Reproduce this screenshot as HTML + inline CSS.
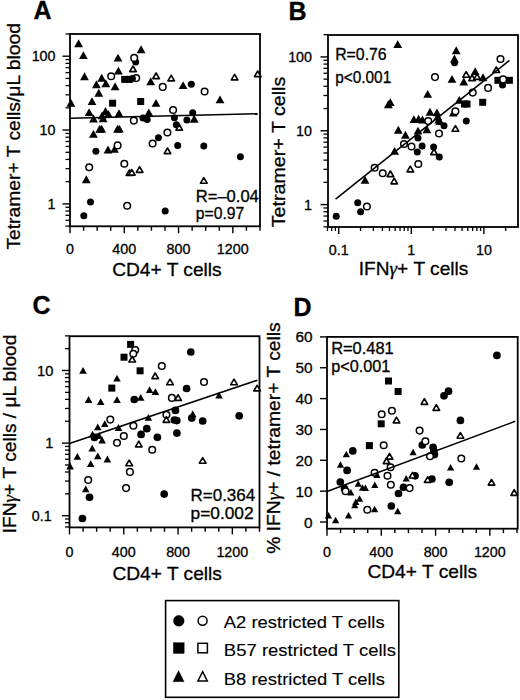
<!DOCTYPE html>
<html><head><meta charset="utf-8"><style>
html,body{margin:0;padding:0;background:#fff;}
body{width:520px;height:700px;overflow:hidden;font-family:"Liberation Sans", sans-serif;}
svg{display:block;}
</style></head><body>
<svg width="520" height="700" viewBox="0 0 520 700">
<rect width="520" height="700" fill="#fff"/>
<g font-family='"Liberation Sans", sans-serif' fill="#000" stroke="#000" stroke-width="0.3">
<text x="33.5" y="18.6" font-size="25" text-anchor="start" font-weight="bold">A</text>
<text x="288.5" y="20.2" font-size="25" text-anchor="start" font-weight="bold">B</text>
<text x="32.5" y="313.8" font-size="25" text-anchor="start" font-weight="bold">C</text>
<text x="293.5" y="316.2" font-size="25" text-anchor="start" font-weight="bold">D</text>
<rect x="70" y="34" width="190" height="192.3" fill="none" stroke="#000" stroke-width="1.8"/>
<line x1="62.50" y1="203.90" x2="70.00" y2="203.90" stroke="#000" stroke-width="1.4"/>
<line x1="62.50" y1="130.05" x2="70.00" y2="130.05" stroke="#000" stroke-width="1.4"/>
<line x1="62.50" y1="56.20" x2="70.00" y2="56.20" stroke="#000" stroke-width="1.4"/>
<line x1="65.50" y1="226.13" x2="70.00" y2="226.13" stroke="#000" stroke-width="1.3"/>
<line x1="65.50" y1="220.28" x2="70.00" y2="220.28" stroke="#000" stroke-width="1.3"/>
<line x1="65.50" y1="215.34" x2="70.00" y2="215.34" stroke="#000" stroke-width="1.3"/>
<line x1="65.50" y1="211.06" x2="70.00" y2="211.06" stroke="#000" stroke-width="1.3"/>
<line x1="65.50" y1="207.28" x2="70.00" y2="207.28" stroke="#000" stroke-width="1.3"/>
<line x1="65.50" y1="181.67" x2="70.00" y2="181.67" stroke="#000" stroke-width="1.3"/>
<line x1="65.50" y1="168.66" x2="70.00" y2="168.66" stroke="#000" stroke-width="1.3"/>
<line x1="65.50" y1="159.44" x2="70.00" y2="159.44" stroke="#000" stroke-width="1.3"/>
<line x1="65.50" y1="152.28" x2="70.00" y2="152.28" stroke="#000" stroke-width="1.3"/>
<line x1="65.50" y1="146.43" x2="70.00" y2="146.43" stroke="#000" stroke-width="1.3"/>
<line x1="65.50" y1="141.49" x2="70.00" y2="141.49" stroke="#000" stroke-width="1.3"/>
<line x1="65.50" y1="137.21" x2="70.00" y2="137.21" stroke="#000" stroke-width="1.3"/>
<line x1="65.50" y1="133.43" x2="70.00" y2="133.43" stroke="#000" stroke-width="1.3"/>
<line x1="65.50" y1="107.82" x2="70.00" y2="107.82" stroke="#000" stroke-width="1.3"/>
<line x1="65.50" y1="94.81" x2="70.00" y2="94.81" stroke="#000" stroke-width="1.3"/>
<line x1="65.50" y1="85.59" x2="70.00" y2="85.59" stroke="#000" stroke-width="1.3"/>
<line x1="65.50" y1="78.43" x2="70.00" y2="78.43" stroke="#000" stroke-width="1.3"/>
<line x1="65.50" y1="72.58" x2="70.00" y2="72.58" stroke="#000" stroke-width="1.3"/>
<line x1="65.50" y1="67.64" x2="70.00" y2="67.64" stroke="#000" stroke-width="1.3"/>
<line x1="65.50" y1="63.36" x2="70.00" y2="63.36" stroke="#000" stroke-width="1.3"/>
<line x1="65.50" y1="59.58" x2="70.00" y2="59.58" stroke="#000" stroke-width="1.3"/>
<line x1="65.50" y1="33.97" x2="70.00" y2="33.97" stroke="#000" stroke-width="1.3"/>
<line x1="70.00" y1="226.30" x2="70.00" y2="233.30" stroke="#000" stroke-width="1.4"/>
<line x1="83.57" y1="226.30" x2="83.57" y2="230.70" stroke="#000" stroke-width="1.4"/>
<line x1="97.14" y1="226.30" x2="97.14" y2="230.70" stroke="#000" stroke-width="1.4"/>
<line x1="110.71" y1="226.30" x2="110.71" y2="230.70" stroke="#000" stroke-width="1.4"/>
<line x1="124.28" y1="226.30" x2="124.28" y2="233.30" stroke="#000" stroke-width="1.4"/>
<line x1="137.85" y1="226.30" x2="137.85" y2="230.70" stroke="#000" stroke-width="1.4"/>
<line x1="151.42" y1="226.30" x2="151.42" y2="230.70" stroke="#000" stroke-width="1.4"/>
<line x1="164.99" y1="226.30" x2="164.99" y2="230.70" stroke="#000" stroke-width="1.4"/>
<line x1="178.56" y1="226.30" x2="178.56" y2="233.30" stroke="#000" stroke-width="1.4"/>
<line x1="192.13" y1="226.30" x2="192.13" y2="230.70" stroke="#000" stroke-width="1.4"/>
<line x1="205.70" y1="226.30" x2="205.70" y2="230.70" stroke="#000" stroke-width="1.4"/>
<line x1="219.27" y1="226.30" x2="219.27" y2="230.70" stroke="#000" stroke-width="1.4"/>
<line x1="232.84" y1="226.30" x2="232.84" y2="233.30" stroke="#000" stroke-width="1.4"/>
<line x1="246.41" y1="226.30" x2="246.41" y2="230.70" stroke="#000" stroke-width="1.4"/>
<line x1="259.98" y1="226.30" x2="259.98" y2="230.70" stroke="#000" stroke-width="1.4"/>
<text x="55.5" y="61.30000000000002" font-size="14.3" text-anchor="end" font-weight="normal">100</text>
<text x="55.5" y="135.15" font-size="14.3" text-anchor="end" font-weight="normal">10</text>
<text x="55.5" y="209.0" font-size="14.3" text-anchor="end" font-weight="normal">1</text>
<text x="70.0" y="254.3" font-size="14.3" text-anchor="middle" font-weight="normal">0</text>
<text x="124.24000000000001" y="254.3" font-size="14.3" text-anchor="middle" font-weight="normal">400</text>
<text x="178.48000000000002" y="254.3" font-size="14.3" text-anchor="middle" font-weight="normal">800</text>
<text x="232.72" y="254.3" font-size="14.3" text-anchor="middle" font-weight="normal">1200</text>
<text x="112.2" y="276.4" font-size="19" text-anchor="start" font-weight="normal" textLength="109.5" lengthAdjust="spacingAndGlyphs">CD4+ T cells</text>
<text x="20" y="249.6" font-size="19" text-anchor="start" font-weight="normal" textLength="226.5" lengthAdjust="spacingAndGlyphs" transform="rotate(-90 20 249.6)">Tetramer+ T cells/μL blood</text>
<text x="195.8" y="201.6" font-size="16" text-anchor="start" font-weight="normal" textLength="63" lengthAdjust="spacingAndGlyphs">R=–0.04</text>
<text x="195.8" y="218.9" font-size="16" text-anchor="start" font-weight="normal" textLength="48.5" lengthAdjust="spacingAndGlyphs">p=0.97</text>
<rect x="328" y="35" width="190" height="192" fill="none" stroke="#000" stroke-width="1.8"/>
<line x1="320.50" y1="204.60" x2="328.00" y2="204.60" stroke="#000" stroke-width="1.4"/>
<line x1="320.50" y1="130.75" x2="328.00" y2="130.75" stroke="#000" stroke-width="1.4"/>
<line x1="320.50" y1="56.90" x2="328.00" y2="56.90" stroke="#000" stroke-width="1.4"/>
<line x1="323.50" y1="226.83" x2="328.00" y2="226.83" stroke="#000" stroke-width="1.3"/>
<line x1="323.50" y1="220.98" x2="328.00" y2="220.98" stroke="#000" stroke-width="1.3"/>
<line x1="323.50" y1="216.04" x2="328.00" y2="216.04" stroke="#000" stroke-width="1.3"/>
<line x1="323.50" y1="211.76" x2="328.00" y2="211.76" stroke="#000" stroke-width="1.3"/>
<line x1="323.50" y1="207.98" x2="328.00" y2="207.98" stroke="#000" stroke-width="1.3"/>
<line x1="323.50" y1="182.37" x2="328.00" y2="182.37" stroke="#000" stroke-width="1.3"/>
<line x1="323.50" y1="169.36" x2="328.00" y2="169.36" stroke="#000" stroke-width="1.3"/>
<line x1="323.50" y1="160.14" x2="328.00" y2="160.14" stroke="#000" stroke-width="1.3"/>
<line x1="323.50" y1="152.98" x2="328.00" y2="152.98" stroke="#000" stroke-width="1.3"/>
<line x1="323.50" y1="147.13" x2="328.00" y2="147.13" stroke="#000" stroke-width="1.3"/>
<line x1="323.50" y1="142.19" x2="328.00" y2="142.19" stroke="#000" stroke-width="1.3"/>
<line x1="323.50" y1="137.91" x2="328.00" y2="137.91" stroke="#000" stroke-width="1.3"/>
<line x1="323.50" y1="134.13" x2="328.00" y2="134.13" stroke="#000" stroke-width="1.3"/>
<line x1="323.50" y1="108.52" x2="328.00" y2="108.52" stroke="#000" stroke-width="1.3"/>
<line x1="323.50" y1="95.51" x2="328.00" y2="95.51" stroke="#000" stroke-width="1.3"/>
<line x1="323.50" y1="86.29" x2="328.00" y2="86.29" stroke="#000" stroke-width="1.3"/>
<line x1="323.50" y1="79.13" x2="328.00" y2="79.13" stroke="#000" stroke-width="1.3"/>
<line x1="323.50" y1="73.28" x2="328.00" y2="73.28" stroke="#000" stroke-width="1.3"/>
<line x1="323.50" y1="68.34" x2="328.00" y2="68.34" stroke="#000" stroke-width="1.3"/>
<line x1="323.50" y1="64.06" x2="328.00" y2="64.06" stroke="#000" stroke-width="1.3"/>
<line x1="323.50" y1="60.28" x2="328.00" y2="60.28" stroke="#000" stroke-width="1.3"/>
<line x1="323.50" y1="34.67" x2="328.00" y2="34.67" stroke="#000" stroke-width="1.3"/>
<line x1="338.70" y1="227.00" x2="338.70" y2="234.00" stroke="#000" stroke-width="1.4"/>
<line x1="411.30" y1="227.00" x2="411.30" y2="234.00" stroke="#000" stroke-width="1.4"/>
<line x1="483.90" y1="227.00" x2="483.90" y2="234.00" stroke="#000" stroke-width="1.4"/>
<line x1="327.45" y1="227.00" x2="327.45" y2="231.00" stroke="#000" stroke-width="1.3"/>
<line x1="331.66" y1="227.00" x2="331.66" y2="231.00" stroke="#000" stroke-width="1.3"/>
<line x1="335.38" y1="227.00" x2="335.38" y2="231.00" stroke="#000" stroke-width="1.3"/>
<line x1="360.55" y1="227.00" x2="360.55" y2="231.00" stroke="#000" stroke-width="1.3"/>
<line x1="373.34" y1="227.00" x2="373.34" y2="231.00" stroke="#000" stroke-width="1.3"/>
<line x1="382.41" y1="227.00" x2="382.41" y2="231.00" stroke="#000" stroke-width="1.3"/>
<line x1="389.45" y1="227.00" x2="389.45" y2="231.00" stroke="#000" stroke-width="1.3"/>
<line x1="395.19" y1="227.00" x2="395.19" y2="231.00" stroke="#000" stroke-width="1.3"/>
<line x1="400.05" y1="227.00" x2="400.05" y2="231.00" stroke="#000" stroke-width="1.3"/>
<line x1="404.26" y1="227.00" x2="404.26" y2="231.00" stroke="#000" stroke-width="1.3"/>
<line x1="407.98" y1="227.00" x2="407.98" y2="231.00" stroke="#000" stroke-width="1.3"/>
<line x1="433.15" y1="227.00" x2="433.15" y2="231.00" stroke="#000" stroke-width="1.3"/>
<line x1="445.94" y1="227.00" x2="445.94" y2="231.00" stroke="#000" stroke-width="1.3"/>
<line x1="455.01" y1="227.00" x2="455.01" y2="231.00" stroke="#000" stroke-width="1.3"/>
<line x1="462.05" y1="227.00" x2="462.05" y2="231.00" stroke="#000" stroke-width="1.3"/>
<line x1="467.79" y1="227.00" x2="467.79" y2="231.00" stroke="#000" stroke-width="1.3"/>
<line x1="472.65" y1="227.00" x2="472.65" y2="231.00" stroke="#000" stroke-width="1.3"/>
<line x1="476.86" y1="227.00" x2="476.86" y2="231.00" stroke="#000" stroke-width="1.3"/>
<line x1="480.58" y1="227.00" x2="480.58" y2="231.00" stroke="#000" stroke-width="1.3"/>
<line x1="505.75" y1="227.00" x2="505.75" y2="231.00" stroke="#000" stroke-width="1.3"/>
<text x="312" y="62.00000000000001" font-size="14.3" text-anchor="end" font-weight="normal">100</text>
<text x="312" y="135.85" font-size="14.3" text-anchor="end" font-weight="normal">10</text>
<text x="312" y="209.7" font-size="14.3" text-anchor="end" font-weight="normal">1</text>
<text x="338.7" y="255.3" font-size="14.3" text-anchor="middle" font-weight="normal">0.1</text>
<text x="411.29999999999995" y="255.3" font-size="14.3" text-anchor="middle" font-weight="normal">1</text>
<text x="483.9" y="255.3" font-size="14.3" text-anchor="middle" font-weight="normal">10</text>
<text x="358.8" y="274.8" font-size="19" text-anchor="start" font-weight="normal" textLength="109.5" lengthAdjust="spacingAndGlyphs">IFN<tspan font-family="Liberation Serif" font-style="italic">γ</tspan>+ T cells</text>
<text x="285.1" y="227.2" font-size="19" text-anchor="start" font-weight="normal" textLength="150.5" lengthAdjust="spacingAndGlyphs" transform="rotate(-90 285.1 227.2)">Tetramer+ T cells</text>
<text x="335.2" y="59.5" font-size="16" text-anchor="start" font-weight="normal" textLength="51.5" lengthAdjust="spacingAndGlyphs">R=0.76</text>
<text x="335.2" y="83.1" font-size="16" text-anchor="start" font-weight="normal" textLength="56" lengthAdjust="spacingAndGlyphs">p&lt;0.001</text>
<rect x="69.5" y="336.2" width="190.0" height="191.2" fill="none" stroke="#000" stroke-width="1.8"/>
<line x1="62.00" y1="515.70" x2="69.50" y2="515.70" stroke="#000" stroke-width="1.4"/>
<line x1="62.00" y1="443.10" x2="69.50" y2="443.10" stroke="#000" stroke-width="1.4"/>
<line x1="62.00" y1="370.50" x2="69.50" y2="370.50" stroke="#000" stroke-width="1.4"/>
<line x1="65.00" y1="526.95" x2="69.50" y2="526.95" stroke="#000" stroke-width="1.3"/>
<line x1="65.00" y1="522.74" x2="69.50" y2="522.74" stroke="#000" stroke-width="1.3"/>
<line x1="65.00" y1="519.02" x2="69.50" y2="519.02" stroke="#000" stroke-width="1.3"/>
<line x1="65.00" y1="493.85" x2="69.50" y2="493.85" stroke="#000" stroke-width="1.3"/>
<line x1="65.00" y1="481.06" x2="69.50" y2="481.06" stroke="#000" stroke-width="1.3"/>
<line x1="65.00" y1="471.99" x2="69.50" y2="471.99" stroke="#000" stroke-width="1.3"/>
<line x1="65.00" y1="464.95" x2="69.50" y2="464.95" stroke="#000" stroke-width="1.3"/>
<line x1="65.00" y1="459.21" x2="69.50" y2="459.21" stroke="#000" stroke-width="1.3"/>
<line x1="65.00" y1="454.35" x2="69.50" y2="454.35" stroke="#000" stroke-width="1.3"/>
<line x1="65.00" y1="450.14" x2="69.50" y2="450.14" stroke="#000" stroke-width="1.3"/>
<line x1="65.00" y1="446.42" x2="69.50" y2="446.42" stroke="#000" stroke-width="1.3"/>
<line x1="65.00" y1="421.25" x2="69.50" y2="421.25" stroke="#000" stroke-width="1.3"/>
<line x1="65.00" y1="408.46" x2="69.50" y2="408.46" stroke="#000" stroke-width="1.3"/>
<line x1="65.00" y1="399.39" x2="69.50" y2="399.39" stroke="#000" stroke-width="1.3"/>
<line x1="65.00" y1="392.35" x2="69.50" y2="392.35" stroke="#000" stroke-width="1.3"/>
<line x1="65.00" y1="386.61" x2="69.50" y2="386.61" stroke="#000" stroke-width="1.3"/>
<line x1="65.00" y1="381.75" x2="69.50" y2="381.75" stroke="#000" stroke-width="1.3"/>
<line x1="65.00" y1="377.54" x2="69.50" y2="377.54" stroke="#000" stroke-width="1.3"/>
<line x1="65.00" y1="373.82" x2="69.50" y2="373.82" stroke="#000" stroke-width="1.3"/>
<line x1="65.00" y1="348.65" x2="69.50" y2="348.65" stroke="#000" stroke-width="1.3"/>
<line x1="65.00" y1="335.86" x2="69.50" y2="335.86" stroke="#000" stroke-width="1.3"/>
<line x1="69.50" y1="527.40" x2="69.50" y2="534.40" stroke="#000" stroke-width="1.4"/>
<line x1="83.07" y1="527.40" x2="83.07" y2="531.80" stroke="#000" stroke-width="1.4"/>
<line x1="96.64" y1="527.40" x2="96.64" y2="531.80" stroke="#000" stroke-width="1.4"/>
<line x1="110.21" y1="527.40" x2="110.21" y2="531.80" stroke="#000" stroke-width="1.4"/>
<line x1="123.78" y1="527.40" x2="123.78" y2="534.40" stroke="#000" stroke-width="1.4"/>
<line x1="137.35" y1="527.40" x2="137.35" y2="531.80" stroke="#000" stroke-width="1.4"/>
<line x1="150.92" y1="527.40" x2="150.92" y2="531.80" stroke="#000" stroke-width="1.4"/>
<line x1="164.49" y1="527.40" x2="164.49" y2="531.80" stroke="#000" stroke-width="1.4"/>
<line x1="178.06" y1="527.40" x2="178.06" y2="534.40" stroke="#000" stroke-width="1.4"/>
<line x1="191.63" y1="527.40" x2="191.63" y2="531.80" stroke="#000" stroke-width="1.4"/>
<line x1="205.20" y1="527.40" x2="205.20" y2="531.80" stroke="#000" stroke-width="1.4"/>
<line x1="218.77" y1="527.40" x2="218.77" y2="531.80" stroke="#000" stroke-width="1.4"/>
<line x1="232.34" y1="527.40" x2="232.34" y2="534.40" stroke="#000" stroke-width="1.4"/>
<line x1="245.91" y1="527.40" x2="245.91" y2="531.80" stroke="#000" stroke-width="1.4"/>
<line x1="259.48" y1="527.40" x2="259.48" y2="531.80" stroke="#000" stroke-width="1.4"/>
<text x="53.3" y="375.5" font-size="14.6" text-anchor="end" font-weight="normal">10</text>
<text x="53.3" y="448.1" font-size="14.6" text-anchor="end" font-weight="normal">1</text>
<text x="51.6" y="520.7" font-size="14.6" text-anchor="end" font-weight="normal" textLength="19.8" lengthAdjust="spacingAndGlyphs">0.1</text>
<text x="69.5" y="557.0" font-size="14.3" text-anchor="middle" font-weight="normal">0</text>
<text x="123.78" y="557.0" font-size="14.3" text-anchor="middle" font-weight="normal">400</text>
<text x="178.06" y="557.0" font-size="14.3" text-anchor="middle" font-weight="normal">800</text>
<text x="232.33999999999997" y="557.0" font-size="14.3" text-anchor="middle" font-weight="normal">1200</text>
<text x="112.4" y="579.7" font-size="19" text-anchor="start" font-weight="normal" textLength="109.5" lengthAdjust="spacingAndGlyphs">CD4+ T cells</text>
<text x="16.2" y="533.2" font-size="19" text-anchor="start" font-weight="normal" textLength="198.6" lengthAdjust="spacingAndGlyphs" transform="rotate(-90 16.2 533.2)">IFN<tspan font-family="Liberation Serif" font-style="italic">γ</tspan>+ T cells / μL blood</text>
<text x="190.6" y="500.9" font-size="16" text-anchor="start" font-weight="normal" textLength="64.5" lengthAdjust="spacingAndGlyphs">R=0.364</text>
<text x="190.6" y="518.5" font-size="16" text-anchor="start" font-weight="normal" textLength="63" lengthAdjust="spacingAndGlyphs">p=0.002</text>
<rect x="327" y="336.9" width="190.70000000000005" height="191.80000000000007" fill="none" stroke="#000" stroke-width="1.8"/>
<line x1="320.00" y1="522.00" x2="327.00" y2="522.00" stroke="#000" stroke-width="1.4"/>
<line x1="320.00" y1="491.15" x2="327.00" y2="491.15" stroke="#000" stroke-width="1.4"/>
<line x1="320.00" y1="460.30" x2="327.00" y2="460.30" stroke="#000" stroke-width="1.4"/>
<line x1="320.00" y1="429.45" x2="327.00" y2="429.45" stroke="#000" stroke-width="1.4"/>
<line x1="320.00" y1="398.60" x2="327.00" y2="398.60" stroke="#000" stroke-width="1.4"/>
<line x1="320.00" y1="367.75" x2="327.00" y2="367.75" stroke="#000" stroke-width="1.4"/>
<line x1="320.00" y1="336.90" x2="327.00" y2="336.90" stroke="#000" stroke-width="1.4"/>
<text x="312.6" y="342.4" font-size="15.4" text-anchor="end" font-weight="normal">60</text>
<text x="312.6" y="373.25" font-size="15.4" text-anchor="end" font-weight="normal">50</text>
<text x="312.6" y="404.1" font-size="15.4" text-anchor="end" font-weight="normal">40</text>
<text x="312.6" y="434.95" font-size="15.4" text-anchor="end" font-weight="normal">30</text>
<text x="312.6" y="465.8" font-size="15.4" text-anchor="end" font-weight="normal">20</text>
<text x="312.6" y="496.65" font-size="15.4" text-anchor="end" font-weight="normal">10</text>
<text x="312.6" y="527.5" font-size="15.4" text-anchor="end" font-weight="normal">0</text>
<line x1="327.00" y1="528.70" x2="327.00" y2="535.70" stroke="#000" stroke-width="1.4"/>
<line x1="340.57" y1="528.70" x2="340.57" y2="533.10" stroke="#000" stroke-width="1.4"/>
<line x1="354.14" y1="528.70" x2="354.14" y2="533.10" stroke="#000" stroke-width="1.4"/>
<line x1="367.71" y1="528.70" x2="367.71" y2="533.10" stroke="#000" stroke-width="1.4"/>
<line x1="381.28" y1="528.70" x2="381.28" y2="535.70" stroke="#000" stroke-width="1.4"/>
<line x1="394.85" y1="528.70" x2="394.85" y2="533.10" stroke="#000" stroke-width="1.4"/>
<line x1="408.42" y1="528.70" x2="408.42" y2="533.10" stroke="#000" stroke-width="1.4"/>
<line x1="421.99" y1="528.70" x2="421.99" y2="533.10" stroke="#000" stroke-width="1.4"/>
<line x1="435.56" y1="528.70" x2="435.56" y2="535.70" stroke="#000" stroke-width="1.4"/>
<line x1="449.13" y1="528.70" x2="449.13" y2="533.10" stroke="#000" stroke-width="1.4"/>
<line x1="462.70" y1="528.70" x2="462.70" y2="533.10" stroke="#000" stroke-width="1.4"/>
<line x1="476.27" y1="528.70" x2="476.27" y2="533.10" stroke="#000" stroke-width="1.4"/>
<line x1="489.84" y1="528.70" x2="489.84" y2="535.70" stroke="#000" stroke-width="1.4"/>
<line x1="503.41" y1="528.70" x2="503.41" y2="533.10" stroke="#000" stroke-width="1.4"/>
<line x1="516.98" y1="528.70" x2="516.98" y2="533.10" stroke="#000" stroke-width="1.4"/>
<text x="327.0" y="557.3" font-size="14.3" text-anchor="middle" font-weight="normal">0</text>
<text x="381.28" y="557.3" font-size="14.3" text-anchor="middle" font-weight="normal">400</text>
<text x="435.56" y="557.3" font-size="14.3" text-anchor="middle" font-weight="normal">800</text>
<text x="489.84" y="557.3" font-size="14.3" text-anchor="middle" font-weight="normal">1200</text>
<text x="367.4" y="577.6" font-size="19" text-anchor="start" font-weight="normal" textLength="109.6" lengthAdjust="spacingAndGlyphs">CD4+ T cells</text>
<text x="280" y="553.8" font-size="19" text-anchor="start" font-weight="normal" textLength="231.5" lengthAdjust="spacingAndGlyphs" transform="rotate(-90 280 553.8)">% IFN<tspan font-family="Liberation Serif" font-style="italic">γ</tspan>+ / tetramer+ T cells</text>
<text x="331.2" y="353.6" font-size="16" text-anchor="start" font-weight="normal" textLength="62.5" lengthAdjust="spacingAndGlyphs">R=0.481</text>
<text x="331.2" y="371.7" font-size="16" text-anchor="start" font-weight="normal" textLength="59" lengthAdjust="spacingAndGlyphs">p&lt;0.001</text>
<rect x="165.6" y="600.6" width="233.20000000000002" height="96.69999999999993" fill="none" stroke="#000" stroke-width="1.6"/>
<circle cx="178.8" cy="620.8" r="5.45" fill="#000"/>
<circle cx="202.6" cy="620.8" r="4.5" fill="#fff" stroke="#000" stroke-width="1.5"/>
<rect x="173.3" y="642.6" width="10.9" height="10.9" fill="#000"/>
<rect x="197.9" y="643.3" width="9.5" height="9.5" fill="#fff" stroke="#000" stroke-width="1.5"/>
<path d="M178.6 670.5L184.2 681.7L172.9 681.7Z" fill="#000"/>
<path d="M202.6 671.6L207.3 680.9L197.9 680.9Z" fill="#fff" stroke="#000" stroke-width="1.5"/>
<text x="223.8" y="628.0" font-size="16.2" text-anchor="start" font-weight="normal" textLength="160.8" lengthAdjust="spacingAndGlyphs" stroke-width="0.12">A2 restricted T cells</text>
<text x="223.8" y="656.3" font-size="16.2" text-anchor="start" font-weight="normal" textLength="172.2" lengthAdjust="spacingAndGlyphs" stroke-width="0.12">B57 restricted T cells</text>
<text x="223.8" y="684.7" font-size="16.2" text-anchor="start" font-weight="normal" textLength="161.1" lengthAdjust="spacingAndGlyphs" stroke-width="0.12">B8 restricted T cells</text>
</g>
<g>
<path d="M78.60 39.25L83.00 47.15L74.20 47.15Z" fill="#000"/>
<path d="M83.40 51.15L87.80 59.05L79.00 59.05Z" fill="#000"/>
<path d="M118.00 53.65L122.40 61.55L113.60 61.55Z" fill="#000"/>
<path d="M141.10 45.35L145.50 53.25L136.70 53.25Z" fill="#000"/>
<path d="M118.40 66.65L122.80 74.55L114.00 74.55Z" fill="#000"/>
<path d="M84.50 72.35L88.90 80.25L80.10 80.25Z" fill="#000"/>
<path d="M101.70 73.75L106.10 81.65L97.30 81.65Z" fill="#000"/>
<path d="M105.80 79.35L110.20 87.25L101.40 87.25Z" fill="#000"/>
<path d="M96.40 80.25L100.80 88.15L92.00 88.15Z" fill="#000"/>
<path d="M115.10 82.35L119.50 90.25L110.70 90.25Z" fill="#000"/>
<path d="M98.80 88.75L103.20 96.65L94.40 96.65Z" fill="#000"/>
<path d="M150.70 77.25L155.10 85.15L146.30 85.15Z" fill="#000"/>
<path d="M92.00 97.15L96.40 105.05L87.60 105.05Z" fill="#000"/>
<path d="M156.00 98.95L160.40 106.85L151.60 106.85Z" fill="#000"/>
<path d="M70.90 98.85L75.30 106.75L66.50 106.75Z" fill="#000"/>
<path d="M89.10 108.15L93.50 116.05L84.70 116.05Z" fill="#000"/>
<path d="M93.50 114.55L97.90 122.45L89.10 122.45Z" fill="#000"/>
<path d="M102.10 111.45L106.50 119.35L97.70 119.35Z" fill="#000"/>
<path d="M103.10 114.35L107.50 122.25L98.70 122.25Z" fill="#000"/>
<path d="M105.50 107.05L109.90 114.95L101.10 114.95Z" fill="#000"/>
<path d="M108.40 109.95L112.80 117.85L104.00 117.85Z" fill="#000"/>
<path d="M119.00 109.15L123.40 117.05L114.60 117.05Z" fill="#000"/>
<path d="M148.80 108.45L153.20 116.35L144.40 116.35Z" fill="#000"/>
<path d="M99.70 124.85L104.10 132.75L95.30 132.75Z" fill="#000"/>
<path d="M101.70 124.85L106.10 132.75L97.30 132.75Z" fill="#000"/>
<path d="M93.40 129.95L97.80 137.85L89.00 137.85Z" fill="#000"/>
<path d="M117.50 124.85L121.90 132.75L113.10 132.75Z" fill="#000"/>
<path d="M119.40 124.65L123.80 132.55L115.00 132.55Z" fill="#000"/>
<path d="M108.00 145.55L112.40 153.45L103.60 153.45Z" fill="#000"/>
<path d="M114.50 144.95L118.90 152.85L110.10 152.85Z" fill="#000"/>
<path d="M86.30 175.35L90.70 183.25L81.90 183.25Z" fill="#000"/>
<path d="M183.10 81.15L187.50 89.05L178.70 89.05Z" fill="#000"/>
<path d="M220.00 95.45L224.40 103.35L215.60 103.35Z" fill="#000"/>
<path d="M194.20 114.75L198.60 122.65L189.80 122.65Z" fill="#000"/>
<rect x="121.2" y="75.9" width="7.0" height="7.0" fill="#000"/>
<rect x="125.7" y="75.9" width="7.0" height="7.0" fill="#000"/>
<rect x="109.1" y="99.7" width="7.0" height="7.0" fill="#000"/>
<rect x="137.2" y="98.0" width="7.0" height="7.0" fill="#000"/>
<circle cx="135.7" cy="61.9" r="3.5" fill="#000"/>
<circle cx="191.3" cy="84.2" r="3.5" fill="#000"/>
<circle cx="143.0" cy="118.1" r="3.5" fill="#000"/>
<circle cx="147.2" cy="119.6" r="3.5" fill="#000"/>
<circle cx="158.4" cy="137.7" r="3.5" fill="#000"/>
<circle cx="95.9" cy="151.2" r="3.5" fill="#000"/>
<circle cx="90.5" cy="201.9" r="3.5" fill="#000"/>
<circle cx="83.8" cy="215.8" r="3.5" fill="#000"/>
<circle cx="165.2" cy="211.1" r="3.5" fill="#000"/>
<circle cx="174.4" cy="117.7" r="3.5" fill="#000"/>
<circle cx="192.7" cy="112.7" r="3.5" fill="#000"/>
<circle cx="186.9" cy="120.0" r="3.5" fill="#000"/>
<circle cx="176.3" cy="124.8" r="3.5" fill="#000"/>
<circle cx="177.7" cy="145.4" r="3.5" fill="#000"/>
<circle cx="203.8" cy="146.0" r="3.5" fill="#000"/>
<circle cx="240.4" cy="156.8" r="3.5" fill="#000"/>
<circle cx="134.2" cy="57.9" r="3.3" fill="#fff" stroke="#000" stroke-width="1.5"/>
<circle cx="111.2" cy="76.2" r="3.3" fill="#fff" stroke="#000" stroke-width="1.5"/>
<circle cx="136.2" cy="78.1" r="3.3" fill="#fff" stroke="#000" stroke-width="1.5"/>
<circle cx="162.7" cy="86.9" r="3.3" fill="#fff" stroke="#000" stroke-width="1.5"/>
<circle cx="204.6" cy="91.5" r="3.3" fill="#fff" stroke="#000" stroke-width="1.5"/>
<circle cx="133.8" cy="120.6" r="3.3" fill="#fff" stroke="#000" stroke-width="1.5"/>
<circle cx="167.4" cy="132.5" r="3.3" fill="#fff" stroke="#000" stroke-width="1.5"/>
<circle cx="152.6" cy="143.5" r="3.3" fill="#fff" stroke="#000" stroke-width="1.5"/>
<circle cx="117.6" cy="145.4" r="3.3" fill="#fff" stroke="#000" stroke-width="1.5"/>
<circle cx="89.2" cy="167.2" r="3.3" fill="#fff" stroke="#000" stroke-width="1.5"/>
<circle cx="124.3" cy="163.7" r="3.3" fill="#fff" stroke="#000" stroke-width="1.5"/>
<circle cx="127.2" cy="205.8" r="3.3" fill="#fff" stroke="#000" stroke-width="1.5"/>
<circle cx="173.1" cy="110.0" r="3.3" fill="#fff" stroke="#000" stroke-width="1.5"/>
<path d="M133.0 66.0L136.3 71.6L129.7 71.6Z" fill="#fff" stroke="#000" stroke-width="1.65" stroke-linejoin="round"/>
<path d="M156.1 73.0L159.4 78.6L152.8 78.6Z" fill="#fff" stroke="#000" stroke-width="1.65" stroke-linejoin="round"/>
<path d="M171.2 75.3L174.5 80.9L167.9 80.9Z" fill="#fff" stroke="#000" stroke-width="1.65" stroke-linejoin="round"/>
<path d="M234.6 74.3L237.9 79.9L231.3 79.9Z" fill="#fff" stroke="#000" stroke-width="1.65" stroke-linejoin="round"/>
<path d="M257.7 71.0L261.0 76.6L254.4 76.6Z" fill="#fff" stroke="#000" stroke-width="1.65" stroke-linejoin="round"/>
<path d="M179.2 124.5L182.5 130.1L175.9 130.1Z" fill="#fff" stroke="#000" stroke-width="1.65" stroke-linejoin="round"/>
<path d="M167.5 148.0L170.8 153.6L164.2 153.6Z" fill="#fff" stroke="#000" stroke-width="1.65" stroke-linejoin="round"/>
<path d="M129.5 169.9L132.8 175.5L126.2 175.5Z" fill="#fff" stroke="#000" stroke-width="1.65" stroke-linejoin="round"/>
<path d="M131.8 169.5L135.1 175.1L128.5 175.1Z" fill="#fff" stroke="#000" stroke-width="1.65" stroke-linejoin="round"/>
<path d="M139.6 166.7L142.9 172.3L136.3 172.3Z" fill="#fff" stroke="#000" stroke-width="1.65" stroke-linejoin="round"/>
<path d="M203.8 177.6L207.1 183.2L200.5 183.2Z" fill="#fff" stroke="#000" stroke-width="1.65" stroke-linejoin="round"/>
<path d="M397.70 40.15L402.10 48.05L393.30 48.05Z" fill="#000"/>
<path d="M390.30 98.15L394.70 106.05L385.90 106.05Z" fill="#000"/>
<path d="M388.30 100.35L392.70 108.25L383.90 108.25Z" fill="#000"/>
<path d="M427.70 89.95L432.10 97.85L423.30 97.85Z" fill="#000"/>
<path d="M456.20 46.25L460.60 54.15L451.80 54.15Z" fill="#000"/>
<path d="M454.40 54.55L458.80 62.45L450.00 62.45Z" fill="#000"/>
<path d="M452.00 74.95L456.40 82.85L447.60 82.85Z" fill="#000"/>
<path d="M463.80 77.55L468.20 85.45L459.40 85.45Z" fill="#000"/>
<path d="M475.20 67.15L479.60 75.05L470.80 75.05Z" fill="#000"/>
<path d="M483.00 73.25L487.40 81.15L478.60 81.15Z" fill="#000"/>
<path d="M459.30 95.95L463.70 103.85L454.90 103.85Z" fill="#000"/>
<path d="M430.00 107.75L434.40 115.65L425.60 115.65Z" fill="#000"/>
<path d="M436.90 108.45L441.30 116.35L432.50 116.35Z" fill="#000"/>
<path d="M437.70 112.25L442.10 120.15L433.30 120.15Z" fill="#000"/>
<path d="M453.30 108.65L457.70 116.55L448.90 116.55Z" fill="#000"/>
<path d="M413.90 115.15L418.30 123.05L409.50 123.05Z" fill="#000"/>
<path d="M418.60 114.75L423.00 122.65L414.20 122.65Z" fill="#000"/>
<path d="M422.50 115.55L426.90 123.45L418.10 123.45Z" fill="#000"/>
<path d="M438.80 115.55L443.20 123.45L434.40 123.45Z" fill="#000"/>
<path d="M439.80 117.05L444.20 124.95L435.40 124.95Z" fill="#000"/>
<path d="M426.90 125.35L431.30 133.25L422.50 133.25Z" fill="#000"/>
<path d="M418.00 126.65L422.40 134.55L413.60 134.55Z" fill="#000"/>
<path d="M405.40 130.75L409.80 138.65L401.00 138.65Z" fill="#000"/>
<path d="M398.30 125.75L402.70 133.65L393.90 133.65Z" fill="#000"/>
<path d="M394.60 146.95L399.00 154.85L390.20 154.85Z" fill="#000"/>
<path d="M365.00 175.75L369.40 183.65L360.60 183.65Z" fill="#000"/>
<rect x="494.4" y="76.8" width="7.0" height="7.0" fill="#000"/>
<rect x="505.9" y="76.8" width="7.0" height="7.0" fill="#000"/>
<rect x="461.0" y="100.5" width="7.0" height="7.0" fill="#000"/>
<rect x="463.5" y="100.5" width="7.0" height="7.0" fill="#000"/>
<rect x="479.2" y="98.8" width="7.0" height="7.0" fill="#000"/>
<circle cx="454.6" cy="62.8" r="3.5" fill="#000"/>
<circle cx="502.5" cy="85.1" r="3.5" fill="#000"/>
<circle cx="466.3" cy="121.0" r="3.5" fill="#000"/>
<circle cx="444.0" cy="125.8" r="3.5" fill="#000"/>
<circle cx="418.0" cy="138.0" r="3.5" fill="#000"/>
<circle cx="422.1" cy="146.0" r="3.5" fill="#000"/>
<circle cx="417.3" cy="152.0" r="3.5" fill="#000"/>
<circle cx="433.6" cy="147.0" r="3.5" fill="#000"/>
<circle cx="439.3" cy="157.1" r="3.5" fill="#000"/>
<circle cx="357.7" cy="202.7" r="3.5" fill="#000"/>
<circle cx="360.6" cy="211.7" r="3.5" fill="#000"/>
<circle cx="336.2" cy="216.2" r="3.5" fill="#000"/>
<circle cx="500.5" cy="59.0" r="3.3" fill="#fff" stroke="#000" stroke-width="1.5"/>
<circle cx="435.0" cy="77.1" r="3.3" fill="#fff" stroke="#000" stroke-width="1.5"/>
<circle cx="503.1" cy="79.4" r="3.3" fill="#fff" stroke="#000" stroke-width="1.5"/>
<circle cx="488.1" cy="87.9" r="3.3" fill="#fff" stroke="#000" stroke-width="1.5"/>
<circle cx="472.7" cy="92.6" r="3.3" fill="#fff" stroke="#000" stroke-width="1.5"/>
<circle cx="455.4" cy="111.2" r="3.3" fill="#fff" stroke="#000" stroke-width="1.5"/>
<circle cx="428.2" cy="121.1" r="3.3" fill="#fff" stroke="#000" stroke-width="1.5"/>
<circle cx="439.0" cy="133.5" r="3.3" fill="#fff" stroke="#000" stroke-width="1.5"/>
<circle cx="404.0" cy="144.0" r="3.3" fill="#fff" stroke="#000" stroke-width="1.5"/>
<circle cx="411.5" cy="146.5" r="3.3" fill="#fff" stroke="#000" stroke-width="1.5"/>
<circle cx="418.3" cy="164.0" r="3.3" fill="#fff" stroke="#000" stroke-width="1.5"/>
<circle cx="374.6" cy="167.8" r="3.3" fill="#fff" stroke="#000" stroke-width="1.5"/>
<circle cx="382.7" cy="173.3" r="3.3" fill="#fff" stroke="#000" stroke-width="1.5"/>
<circle cx="366.9" cy="206.5" r="3.3" fill="#fff" stroke="#000" stroke-width="1.5"/>
<path d="M466.2 71.6L469.5 77.2L462.9 77.2Z" fill="#fff" stroke="#000" stroke-width="1.65" stroke-linejoin="round"/>
<path d="M472.1 75.0L475.4 80.6L468.8 80.6Z" fill="#fff" stroke="#000" stroke-width="1.65" stroke-linejoin="round"/>
<path d="M477.1 73.8L480.4 79.4L473.8 79.4Z" fill="#fff" stroke="#000" stroke-width="1.65" stroke-linejoin="round"/>
<path d="M496.3 66.9L499.6 72.5L493.0 72.5Z" fill="#fff" stroke="#000" stroke-width="1.65" stroke-linejoin="round"/>
<path d="M455.4 125.6L458.7 131.2L452.1 131.2Z" fill="#fff" stroke="#000" stroke-width="1.65" stroke-linejoin="round"/>
<path d="M434.0 149.0L437.3 154.6L430.7 154.6Z" fill="#fff" stroke="#000" stroke-width="1.65" stroke-linejoin="round"/>
<path d="M410.3 166.2L413.6 171.8L407.0 171.8Z" fill="#fff" stroke="#000" stroke-width="1.65" stroke-linejoin="round"/>
<path d="M390.4 171.0L393.7 176.6L387.1 176.6Z" fill="#fff" stroke="#000" stroke-width="1.65" stroke-linejoin="round"/>
<path d="M394.2 178.2L397.5 183.8L390.9 183.8Z" fill="#fff" stroke="#000" stroke-width="1.65" stroke-linejoin="round"/>
<rect x="127.1" y="340.9" width="7.0" height="7.0" fill="#000"/>
<rect x="120.5" y="353.7" width="7.0" height="7.0" fill="#000"/>
<rect x="136.6" y="367.3" width="7.0" height="7.0" fill="#000"/>
<rect x="108.3" y="384.6" width="7.0" height="7.0" fill="#000"/>
<path d="M83.00 366.90L86.80 373.70L79.20 373.70Z" fill="#000"/>
<path d="M117.00 374.80L120.80 381.60L113.20 381.60Z" fill="#000"/>
<path d="M149.60 386.30L153.40 393.10L145.80 393.10Z" fill="#000"/>
<path d="M155.40 388.20L159.20 395.00L151.60 395.00Z" fill="#000"/>
<path d="M88.60 396.10L92.40 402.90L84.80 402.90Z" fill="#000"/>
<path d="M100.70 398.30L104.50 405.10L96.90 405.10Z" fill="#000"/>
<path d="M117.00 396.30L120.80 403.10L113.20 403.10Z" fill="#000"/>
<path d="M140.70 393.90L144.50 400.70L136.90 400.70Z" fill="#000"/>
<path d="M219.00 391.80L222.80 398.60L215.20 398.60Z" fill="#000"/>
<path d="M104.80 420.30L108.60 427.10L101.00 427.10Z" fill="#000"/>
<path d="M97.80 423.40L101.60 430.20L94.00 430.20Z" fill="#000"/>
<path d="M118.50 424.10L122.30 430.90L114.70 430.90Z" fill="#000"/>
<path d="M148.40 414.00L152.20 420.80L144.60 420.80Z" fill="#000"/>
<path d="M92.50 430.80L96.30 437.60L88.70 437.60Z" fill="#000"/>
<path d="M99.20 432.30L103.00 439.10L95.40 439.10Z" fill="#000"/>
<path d="M102.10 436.60L105.90 443.40L98.30 443.40Z" fill="#000"/>
<path d="M92.20 444.70L96.00 451.50L88.40 451.50Z" fill="#000"/>
<path d="M77.40 453.00L81.20 459.80L73.60 459.80Z" fill="#000"/>
<path d="M97.80 452.40L101.60 459.20L94.00 459.20Z" fill="#000"/>
<path d="M107.40 455.60L111.20 462.40L103.60 462.40Z" fill="#000"/>
<path d="M90.70 460.20L94.50 467.00L86.90 467.00Z" fill="#000"/>
<path d="M70.10 462.60L73.90 469.40L66.30 469.40Z" fill="#000"/>
<path d="M85.70 485.50L89.50 492.30L81.90 492.30Z" fill="#000"/>
<path d="M192.70 410.50L196.50 417.30L188.90 417.30Z" fill="#000"/>
<circle cx="190.8" cy="352.0" r="3.85" fill="#000"/>
<circle cx="186.6" cy="388.5" r="3.85" fill="#000"/>
<circle cx="134.3" cy="399.5" r="3.85" fill="#000"/>
<circle cx="175.4" cy="410.4" r="3.85" fill="#000"/>
<circle cx="174.4" cy="420.0" r="3.85" fill="#000"/>
<circle cx="191.7" cy="418.1" r="3.85" fill="#000"/>
<circle cx="202.7" cy="421.0" r="3.85" fill="#000"/>
<circle cx="239.2" cy="415.8" r="3.85" fill="#000"/>
<circle cx="146.8" cy="428.7" r="3.85" fill="#000"/>
<circle cx="141.1" cy="434.4" r="3.85" fill="#000"/>
<circle cx="157.4" cy="437.3" r="3.85" fill="#000"/>
<circle cx="94.4" cy="437.4" r="3.85" fill="#000"/>
<circle cx="176.9" cy="433.1" r="3.85" fill="#000"/>
<circle cx="176.8" cy="420.6" r="3.85" fill="#000"/>
<circle cx="89.5" cy="497.3" r="3.85" fill="#000"/>
<circle cx="164.2" cy="494.1" r="3.85" fill="#000"/>
<circle cx="82.4" cy="518.5" r="3.85" fill="#000"/>
<circle cx="135.2" cy="350.1" r="3.3" fill="#fff" stroke="#000" stroke-width="1.5"/>
<circle cx="133.3" cy="353.8" r="3.3" fill="#fff" stroke="#000" stroke-width="1.5"/>
<circle cx="161.8" cy="366.0" r="3.3" fill="#fff" stroke="#000" stroke-width="1.5"/>
<circle cx="204.0" cy="382.0" r="3.3" fill="#fff" stroke="#000" stroke-width="1.5"/>
<circle cx="171.9" cy="397.9" r="3.3" fill="#fff" stroke="#000" stroke-width="1.5"/>
<circle cx="110.3" cy="419.6" r="3.3" fill="#fff" stroke="#000" stroke-width="1.5"/>
<circle cx="166.4" cy="414.7" r="3.3" fill="#fff" stroke="#000" stroke-width="1.5"/>
<circle cx="133.4" cy="425.8" r="3.3" fill="#fff" stroke="#000" stroke-width="1.5"/>
<circle cx="123.8" cy="436.0" r="3.3" fill="#fff" stroke="#000" stroke-width="1.5"/>
<circle cx="117.0" cy="442.7" r="3.3" fill="#fff" stroke="#000" stroke-width="1.5"/>
<circle cx="152.2" cy="449.8" r="3.3" fill="#fff" stroke="#000" stroke-width="1.5"/>
<circle cx="129.9" cy="471.9" r="3.3" fill="#fff" stroke="#000" stroke-width="1.5"/>
<circle cx="88.2" cy="480.0" r="3.3" fill="#fff" stroke="#000" stroke-width="1.5"/>
<circle cx="126.1" cy="488.1" r="3.3" fill="#fff" stroke="#000" stroke-width="1.5"/>
<path d="M132.2 356.4L135.5 362.0L128.9 362.0Z" fill="#fff" stroke="#000" stroke-width="1.65" stroke-linejoin="round"/>
<path d="M155.2 373.0L158.5 378.6L151.9 378.6Z" fill="#fff" stroke="#000" stroke-width="1.65" stroke-linejoin="round"/>
<path d="M170.0 379.1L173.3 384.7L166.7 384.7Z" fill="#fff" stroke="#000" stroke-width="1.65" stroke-linejoin="round"/>
<path d="M234.0 379.1L237.3 384.7L230.7 384.7Z" fill="#fff" stroke="#000" stroke-width="1.65" stroke-linejoin="round"/>
<path d="M257.1 385.3L260.4 390.9L253.8 390.9Z" fill="#fff" stroke="#000" stroke-width="1.65" stroke-linejoin="round"/>
<path d="M178.1 394.7L181.4 400.3L174.8 400.3Z" fill="#fff" stroke="#000" stroke-width="1.65" stroke-linejoin="round"/>
<path d="M166.4 416.7L169.7 422.3L163.1 422.3Z" fill="#fff" stroke="#000" stroke-width="1.65" stroke-linejoin="round"/>
<path d="M138.8 441.2L142.1 446.8L135.5 446.8Z" fill="#fff" stroke="#000" stroke-width="1.65" stroke-linejoin="round"/>
<path d="M129.2 460.1L132.5 465.7L125.9 465.7Z" fill="#fff" stroke="#000" stroke-width="1.65" stroke-linejoin="round"/>
<path d="M202.7 457.6L206.0 463.2L199.4 463.2Z" fill="#fff" stroke="#000" stroke-width="1.65" stroke-linejoin="round"/>
<rect x="385.0" y="377.5" width="7.0" height="7.0" fill="#000"/>
<rect x="394.6" y="388.0" width="7.0" height="7.0" fill="#000"/>
<rect x="377.7" y="420.3" width="7.0" height="7.0" fill="#000"/>
<rect x="365.9" y="442.1" width="7.0" height="7.0" fill="#000"/>
<circle cx="496.9" cy="355.4" r="3.85" fill="#000"/>
<circle cx="448.5" cy="391.2" r="3.85" fill="#000"/>
<circle cx="444.0" cy="395.8" r="3.85" fill="#000"/>
<circle cx="460.4" cy="420.4" r="3.85" fill="#000"/>
<circle cx="422.3" cy="445.0" r="3.85" fill="#000"/>
<circle cx="433.1" cy="447.3" r="3.85" fill="#000"/>
<circle cx="433.8" cy="450.8" r="3.85" fill="#000"/>
<circle cx="434.4" cy="454.6" r="3.85" fill="#000"/>
<circle cx="352.8" cy="450.9" r="3.85" fill="#000"/>
<circle cx="347.1" cy="470.4" r="3.85" fill="#000"/>
<circle cx="340.3" cy="482.0" r="3.85" fill="#000"/>
<circle cx="344.5" cy="488.5" r="3.85" fill="#000"/>
<circle cx="415.0" cy="475.8" r="3.85" fill="#000"/>
<circle cx="403.5" cy="487.3" r="3.85" fill="#000"/>
<circle cx="398.5" cy="493.5" r="3.85" fill="#000"/>
<circle cx="391.3" cy="506.0" r="3.85" fill="#000"/>
<circle cx="431.9" cy="479.0" r="3.85" fill="#000"/>
<circle cx="449.2" cy="482.3" r="3.85" fill="#000"/>
<circle cx="381.7" cy="414.2" r="3.3" fill="#fff" stroke="#000" stroke-width="1.5"/>
<circle cx="391.9" cy="410.8" r="3.3" fill="#fff" stroke="#000" stroke-width="1.5"/>
<circle cx="419.6" cy="430.6" r="3.3" fill="#fff" stroke="#000" stroke-width="1.5"/>
<circle cx="425.4" cy="441.2" r="3.3" fill="#fff" stroke="#000" stroke-width="1.5"/>
<circle cx="383.7" cy="445.3" r="3.3" fill="#fff" stroke="#000" stroke-width="1.5"/>
<circle cx="390.6" cy="467.3" r="3.3" fill="#fff" stroke="#000" stroke-width="1.5"/>
<circle cx="374.6" cy="472.8" r="3.3" fill="#fff" stroke="#000" stroke-width="1.5"/>
<circle cx="387.5" cy="475.8" r="3.3" fill="#fff" stroke="#000" stroke-width="1.5"/>
<circle cx="390.8" cy="484.8" r="3.3" fill="#fff" stroke="#000" stroke-width="1.5"/>
<circle cx="345.6" cy="491.3" r="3.3" fill="#fff" stroke="#000" stroke-width="1.5"/>
<circle cx="409.6" cy="488.1" r="3.3" fill="#fff" stroke="#000" stroke-width="1.5"/>
<circle cx="367.3" cy="509.8" r="3.3" fill="#fff" stroke="#000" stroke-width="1.5"/>
<circle cx="430.0" cy="456.2" r="3.3" fill="#fff" stroke="#000" stroke-width="1.5"/>
<circle cx="461.3" cy="458.5" r="3.3" fill="#fff" stroke="#000" stroke-width="1.5"/>
<path d="M424.4 398.7L427.7 404.3L421.1 404.3Z" fill="#fff" stroke="#000" stroke-width="1.65" stroke-linejoin="round"/>
<path d="M436.3 404.7L439.6 410.3L433.0 410.3Z" fill="#fff" stroke="#000" stroke-width="1.65" stroke-linejoin="round"/>
<path d="M396.5 417.2L399.8 422.8L393.2 422.8Z" fill="#fff" stroke="#000" stroke-width="1.65" stroke-linejoin="round"/>
<path d="M389.5 453.5L392.8 459.1L386.2 459.1Z" fill="#fff" stroke="#000" stroke-width="1.65" stroke-linejoin="round"/>
<path d="M386.5 458.0L389.8 463.6L383.2 463.6Z" fill="#fff" stroke="#000" stroke-width="1.65" stroke-linejoin="round"/>
<path d="M460.4 432.6L463.7 438.2L457.1 438.2Z" fill="#fff" stroke="#000" stroke-width="1.65" stroke-linejoin="round"/>
<path d="M412.5 472.4L415.8 478.0L409.2 478.0Z" fill="#fff" stroke="#000" stroke-width="1.65" stroke-linejoin="round"/>
<path d="M427.7 476.8L431.0 482.4L424.4 482.4Z" fill="#fff" stroke="#000" stroke-width="1.65" stroke-linejoin="round"/>
<path d="M491.5 479.5L494.8 485.1L488.2 485.1Z" fill="#fff" stroke="#000" stroke-width="1.65" stroke-linejoin="round"/>
<path d="M514.2 489.7L517.5 495.3L510.9 495.3Z" fill="#fff" stroke="#000" stroke-width="1.65" stroke-linejoin="round"/>
<path d="M346.30 450.65L349.90 457.15L342.70 457.15Z" fill="#000"/>
<path d="M340.50 461.35L344.10 467.85L336.90 467.85Z" fill="#000"/>
<path d="M358.20 480.25L361.80 486.75L354.60 486.75Z" fill="#000"/>
<path d="M362.50 484.35L366.10 490.85L358.90 490.85Z" fill="#000"/>
<path d="M365.40 484.45L369.00 490.95L361.80 490.95Z" fill="#000"/>
<path d="M374.80 481.45L378.40 487.95L371.20 487.95Z" fill="#000"/>
<path d="M377.00 471.45L380.60 477.95L373.40 477.95Z" fill="#000"/>
<path d="M350.80 488.95L354.40 495.45L347.20 495.45Z" fill="#000"/>
<path d="M359.60 495.25L363.20 501.75L356.00 501.75Z" fill="#000"/>
<path d="M355.80 498.55L359.40 505.05L352.20 505.05Z" fill="#000"/>
<path d="M354.80 501.85L358.40 508.35L351.20 508.35Z" fill="#000"/>
<path d="M374.60 505.65L378.20 512.15L371.00 512.15Z" fill="#000"/>
<path d="M397.70 507.65L401.30 514.15L394.10 514.15Z" fill="#000"/>
<path d="M328.50 512.05L332.10 518.55L324.90 518.55Z" fill="#000"/>
<path d="M348.50 512.05L352.10 518.55L344.90 518.55Z" fill="#000"/>
<path d="M335.60 516.85L339.20 523.35L332.00 523.35Z" fill="#000"/>
<path d="M406.20 474.95L409.80 481.45L402.60 481.45Z" fill="#000"/>
<path d="M413.10 448.75L416.70 455.25L409.50 455.25Z" fill="#000"/>
<path d="M450.60 464.05L454.20 470.55L447.00 470.55Z" fill="#000"/>
<path d="M476.50 463.15L480.10 469.65L472.90 469.65Z" fill="#000"/>
<circle cx="132.4" cy="78.6" r="3.5" fill="#000"/>
</g>
<line x1="70.00" y1="118.20" x2="257.70" y2="113.70" stroke="#000" stroke-width="1.6"/>
<line x1="335.60" y1="199.20" x2="509.50" y2="60.30" stroke="#000" stroke-width="1.6"/>
<line x1="69.50" y1="443.60" x2="257.50" y2="380.20" stroke="#000" stroke-width="1.6"/>
<line x1="327.00" y1="491.50" x2="515.20" y2="421.30" stroke="#000" stroke-width="1.6"/>
</svg>
</body></html>
